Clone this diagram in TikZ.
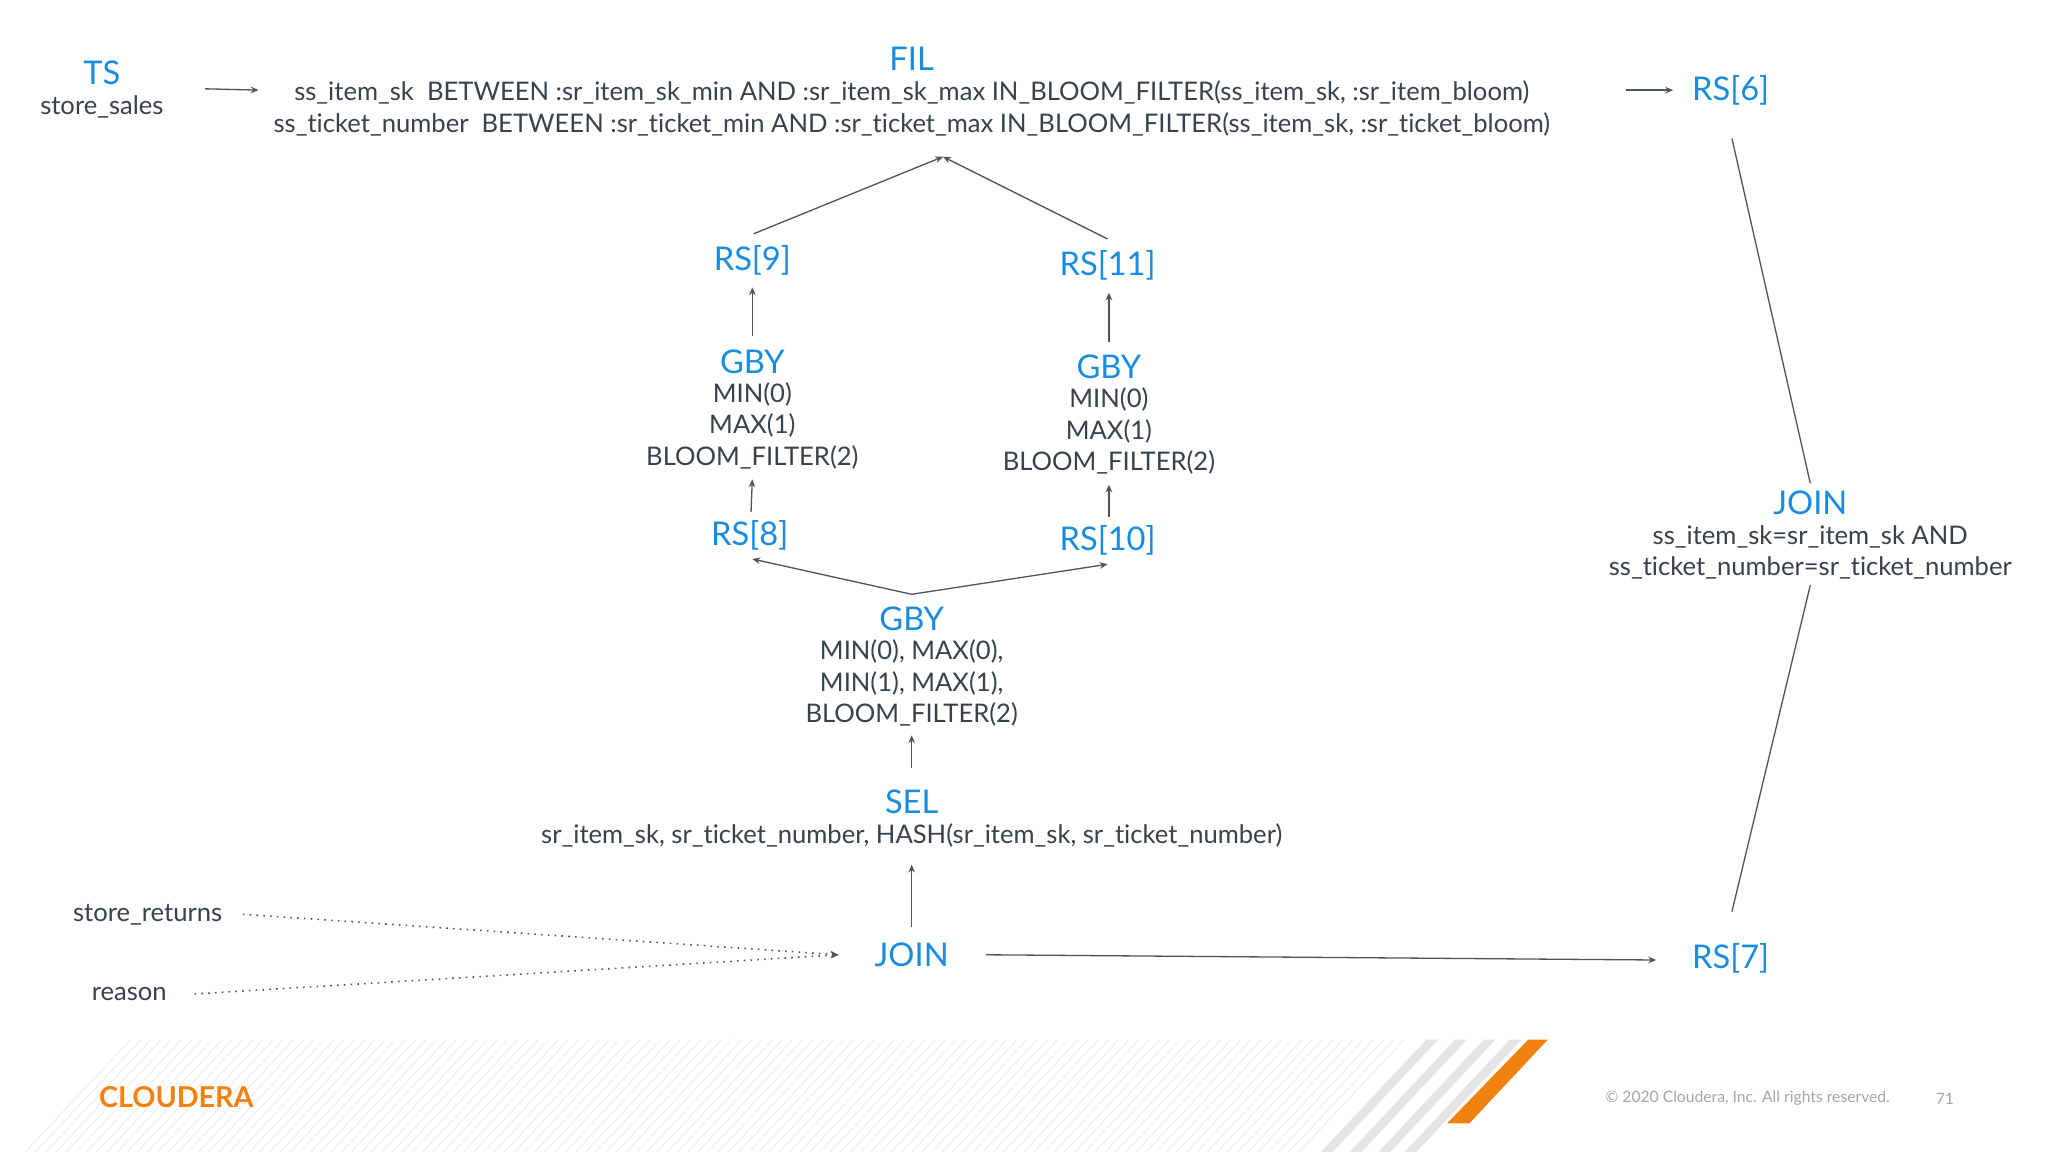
\documentclass[tikz,border=0pt]{standalone}
\usepackage{fontspec}
\setmainfont{Lato}[Ligatures=NoCommon]
\usetikzlibrary{arrows.meta}
\definecolor{bl}{HTML}{1A8CE0}
\definecolor{tx}{HTML}{37424A}
\definecolor{ln}{HTML}{4A5560}
\definecolor{orng}{HTML}{F2820F}
\tikzset{
 ttl/.style={text=bl,font=\fontsize{12.5}{14}\selectfont,inner sep=0pt},
 body/.style={text=tx,font=\fontsize{9.8}{12}\selectfont,inner sep=0pt,align=center},
 arr/.style={draw=ln,line width=0.5pt,-{Stealth[length=3pt,width=2.5pt]}},
 plain/.style={draw=ln,line width=0.5pt},
 dots/.style={draw=ln,line width=0.6pt,dotted,-{Stealth[length=3pt,width=2.5pt]}}
}
\begin{document}
\begin{tikzpicture}[x=0.5pt,y=-0.5pt]
\useasboundingbox[fill=white] (0,0) rectangle (1568,882);
% footer band
\begin{scope}
\clip (0,796) rectangle (1568,882);
\foreach \i in {0,...,125} {
 \pgfmathsetmacro{\xx}{100+\i*7.8}
 \draw[gray!14,line width=0.35pt] (\xx,796) -- ++(-90,96);
}
\foreach \xx in {1092,1114,1136,1156} {
 \fill[gray!20] (\xx,796) -- ++(9,0) -- ++(-90,96) -- ++(-9,0) -- cycle;
}
\fill[orng] (1170,796) -- (1185,796) -- (1125,860) -- (1108,860) -- cycle;
\end{scope}
\node[text=orng,font=\bfseries\fontsize{11}{12}\selectfont,inner sep=0pt] (logo) at (135,840) {CLOUDERA};
\node[text=gray!70,font=\fontsize{6}{7}\selectfont,inner sep=0pt] (copy) at (1338,841) {© 2020 Cloudera, Inc. All rights reserved.};
\node[text=gray!70,font=\fontsize{6}{7}\selectfont,inner sep=0pt] (pg) at (1489,841) {71};

% nodes
\node[ttl] (ts) at (78,56) {TS};
\node[body] (tsb) at (78,82) {store\_sales};
\node[ttl] (fil) at (698,45) {FIL};
\node[body] (fil1) at (698,71) {ss\_item\_sk\ \ BETWEEN :sr\_item\_sk\_min AND :sr\_item\_sk\_max IN\_BLOOM\_FILTER(ss\_item\_sk, :sr\_item\_bloom)};
\node[body] (fil2) at (698,95) {ss\_ticket\_number\ \ BETWEEN :sr\_ticket\_min AND :sr\_ticket\_max IN\_BLOOM\_FILTER(ss\_item\_sk, :sr\_ticket\_bloom)};
\node[ttl] (rs6) at (1325,69) {RS[6]};
\node[ttl] (rs9) at (576,199) {RS[9]};
\node[ttl] (rs11) at (848,203) {RS[11]};
\node[ttl] (gbyl) at (576,277) {GBY};
\node[body] (gbyl1) at (576,302) {MIN(0)};
\node[body] (gbyl2) at (576,326) {MAX(1)};
\node[body] (gbyl3) at (576,350) {BLOOM\_FILTER(2)};
\node[ttl] (gbyr) at (849,281) {GBY};
\node[body] (gbyr1) at (849,306) {MIN(0)};
\node[body] (gbyr2) at (849,330) {MAX(1)};
\node[body] (gbyr3) at (849,354) {BLOOM\_FILTER(2)};
\node[ttl] (rs8) at (574,410) {RS[8]};
\node[ttl] (rs10) at (848,414) {RS[10]};
\node[ttl] (gby) at (698,474) {GBY};
\node[body] (gby1) at (698,499) {MIN(0), MAX(0),};
\node[body] (gby2) at (698,523) {MIN(1), MAX(1),};
\node[body] (gby3) at (698,547) {BLOOM\_FILTER(2)};
\node[ttl] (sel) at (698,614) {SEL};
\node[body] (selb) at (698,640) {sr\_item\_sk, sr\_ticket\_number, HASH(sr\_item\_sk, sr\_ticket\_number)};
\node[ttl] (join) at (698,731) {JOIN};
\node[body] (sr) at (113,700) {store\_returns};
\node[body] (reason) at (99,761) {reason};
\node[ttl] (rs7) at (1325,734) {RS[7]};
\node[ttl] (join2) at (1386,385) {JOIN};
\node[body] (join2a) at (1386,411) {ss\_item\_sk=sr\_item\_sk AND};
\node[body] (join2b) at (1386,435) {ss\_ticket\_number=sr\_ticket\_number};

% coordinates
\coordinate (apex) at (722,120);
\coordinate (lapex) at (698,455);
\coordinate (jin) at (642,731);
\coordinate (tsO) at (157,68);
\coordinate (filI) at (198,69);
\coordinate (filO) at (1245,69);
\coordinate (rs6I) at (1281,69);
\coordinate (rs9O) at (577,179);
\coordinate (rs11O) at (848,183);
\coordinate (gblO) at (576,257);
\coordinate (rs9I) at (576,220);
\coordinate (gbrO) at (849,262);
\coordinate (rs11I) at (849,224);
\coordinate (rs8O) at (575,392);
\coordinate (gblI) at (576,367);
\coordinate (rs10O) at (849,396);
\coordinate (gbrI) at (849,371);
\coordinate (rs8I) at (576,428);
\coordinate (rs10I) at (848,432);
\coordinate (selO) at (698,588);
\coordinate (gbI) at (698,563);
\coordinate (joinO) at (698,710);
\coordinate (selI) at (698,662);
\coordinate (srO) at (186,700);
\coordinate (reO) at (149,761);
\coordinate (joinR) at (755,731);
\coordinate (rs7I) at (1268,735);
\coordinate (rs6B) at (1326,106);
\coordinate (j2T) at (1386,370);
\coordinate (j2B) at (1386,448);
\coordinate (rs7T) at (1326,698);

% connectors
\draw[arr] (tsO) -- (filI);
\draw[arr] (filO) -- (rs6I);
\draw[arr] (rs9O) -- (apex);
\draw[arr] (rs11O) -- (apex);
\draw[arr] (gblO) -- (rs9I);
\draw[arr] (gbrO) -- (rs11I);
\draw[arr] (rs8O) -- (gblI);
\draw[arr] (rs10O) -- (gbrI);
\draw[arr] (lapex) -- (rs8I);
\draw[arr] (lapex) -- (rs10I);
\draw[arr] (selO) -- (gbI);
\draw[arr] (joinO) -- (selI);
\draw[dots] (srO) -- (jin);
\draw[dots] (reO) -- (jin);
\draw[arr] (joinR) -- (rs7I);
\draw[plain] (rs6B) -- (j2T);
\draw[plain] (j2B) -- (rs7T);
\end{tikzpicture}
\end{document}
